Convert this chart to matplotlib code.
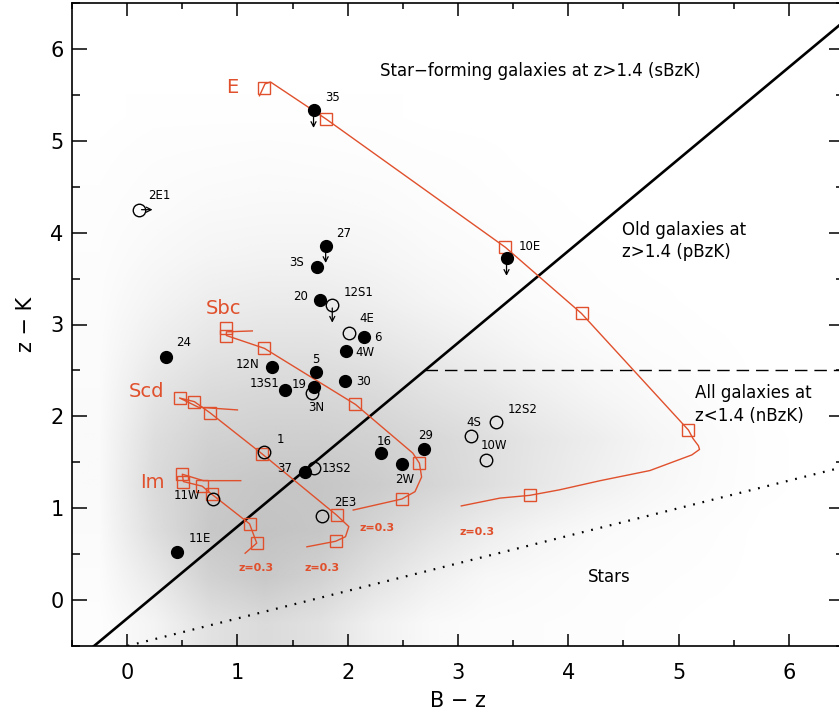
import numpy as np
import matplotlib
matplotlib.use('Agg')
import matplotlib.pyplot as plt

RED = '#e0502c'
GREY = '#a4a4a4'

# field galaxy density (fraction of area covered by dots), B-z columns / z-K rows
dens_x = [-0.25, 0.25, 0.75, 1.25, 1.75, 2.25, 2.75, 3.25, 3.75, 4.25, 4.75, 5.25, 5.75, 6.25]
dens_y = [-0.25, 0.25, 0.75, 1.25, 1.75, 2.25, 2.75, 3.25, 3.75, 4.25, 4.75, 5.25]
dens = [
    [0.02, 0.15, 0.40, 0.50, 0.40, 0.20, 0.08, 0.04, 0.03, 0.02, 0.01, 0.00, 0.00, 0.00],
    [0.04, 0.30, 0.62, 0.75, 0.62, 0.40, 0.22, 0.10, 0.06, 0.03, 0.02, 0.01, 0.00, 0.00],
    [0.06, 0.45, 0.75, 0.82, 0.78, 0.58, 0.40, 0.25, 0.14, 0.07, 0.04, 0.02, 0.00, 0.00],
    [0.07, 0.50, 0.72, 0.78, 0.78, 0.70, 0.58, 0.45, 0.32, 0.20, 0.11, 0.05, 0.01, 0.00],
    [0.07, 0.45, 0.62, 0.66, 0.66, 0.62, 0.54, 0.45, 0.34, 0.24, 0.13, 0.06, 0.01, 0.00],
    [0.06, 0.36, 0.50, 0.54, 0.54, 0.50, 0.40, 0.32, 0.22, 0.13, 0.07, 0.03, 0.00, 0.00],
    [0.05, 0.24, 0.36, 0.40, 0.40, 0.35, 0.27, 0.19, 0.11, 0.06, 0.03, 0.01, 0.00, 0.00],
    [0.04, 0.15, 0.24, 0.27, 0.27, 0.22, 0.15, 0.09, 0.05, 0.02, 0.01, 0.00, 0.00, 0.00],
    [0.03, 0.09, 0.14, 0.16, 0.16, 0.13, 0.08, 0.05, 0.02, 0.01, 0.00, 0.00, 0.00, 0.00],
    [0.02, 0.05, 0.08, 0.09, 0.09, 0.07, 0.04, 0.02, 0.01, 0.00, 0.00, 0.00, 0.00, 0.00],
    [0.01, 0.03, 0.04, 0.05, 0.04, 0.03, 0.02, 0.01, 0.00, 0.00, 0.00, 0.00, 0.00, 0.00],
    [0.00, 0.01, 0.01, 0.01, 0.01, 0.01, 0.00, 0.00, 0.00, 0.00, 0.00, 0.00, 0.00, 0.00],
]

# detected sources with K-band detection (filled)
fill_names = ['35', '27', '3S', '20', '6', '4W', '24', '12N', '5', '30', '13S1', '19',
              '16', '29', '2W', '37', '11E', '10E']
fill_bz = [1.69, 1.80, 1.72, 1.75, 2.15, 1.98, 0.35, 1.31, 1.715, 1.975, 1.43, 1.69,
           2.30, 2.69, 2.49, 1.615, 0.45, 3.44]
fill_zk = [5.33, 3.86, 3.63, 3.27, 2.86, 2.71, 2.65, 2.54, 2.48, 2.39, 2.29, 2.32,
           1.60, 1.64, 1.48, 1.39, 0.52, 3.72]
fill_lx = [1.86, 1.96, 1.54, 1.57, 2.27, 2.16, 0.51, 1.09, 1.71, 2.14, 1.25, 1.56,
           2.33, 2.71, 2.52, 1.43, 0.66, 3.65]
fill_ly = [5.47, 3.99, 3.67, 3.30, 2.855, 2.70, 2.80, 2.565, 2.62, 2.38, 2.355, 2.345,
           1.73, 1.79, 1.315, 1.43, 0.67, 3.85]

open_names = ['2E1', '12S1', '4E', '3N', '1', '13S2', '11W', '2E3', '4S', '12S2', '10W']
open_bz = [0.105, 1.86, 2.01, 1.68, 1.245, 1.69, 0.775, 1.77, 3.12, 3.345, 3.255]
open_zk = [4.25, 3.21, 2.91, 2.25, 1.61, 1.435, 1.10, 0.913, 1.79, 1.935, 1.53]
open_lx = [0.295, 2.10, 2.17, 1.715, 1.39, 1.90, 0.54, 1.98, 3.14, 3.59, 3.33]
open_ly = [4.40, 3.35, 3.06, 2.10, 1.747, 1.43, 1.134, 1.06, 1.93, 2.08, 1.68]

# limits: down arrows on z-K, right arrow on B-z
down_lim = ['35', '27', '10E', '12S1']
right_lim = ['2E1']

# model tracks (high z -> z=0.3) and their marked redshift steps
e_bz = [1.20, 1.25, 1.30, 1.80, 3.43, 4.12, 5.09, 5.13, 5.18, 5.19, 5.12, 4.74, 4.29, 3.92, 3.65, 3.38, 3.03]
e_zk = [5.49, 5.62, 5.64, 5.24, 3.84, 3.12, 1.85, 1.76, 1.68, 1.64, 1.58, 1.41, 1.30, 1.20, 1.14, 1.11, 1.025]
e_sq_bz = [1.24, 1.80, 3.43, 4.12, 5.09, 3.65]
e_sq_zk = [5.57, 5.24, 3.84, 3.12, 1.85, 1.14]

sbc_bz = [1.135, 0.90, 0.90, 1.245, 2.07, 2.59, 2.65, 2.67, 2.61, 2.49, 2.05]
sbc_zk = [2.93, 2.92, 2.88, 2.74, 2.13, 1.60, 1.49, 1.34, 1.18, 1.10, 0.98]
sbc_sq_bz = [0.90, 0.90, 1.245, 2.07, 2.65, 2.49]
sbc_sq_zk = [2.96, 2.88, 2.74, 2.13, 1.49, 1.10]

scd_bz = [1.00, 0.645, 0.475, 0.61, 0.75, 1.22, 1.90, 2.01, 1.98, 1.89, 1.63]
scd_zk = [2.07, 2.10, 2.20, 2.16, 2.04, 1.595, 0.924, 0.80, 0.69, 0.64, 0.58]
scd_sq_bz = [0.475, 0.61, 0.75, 1.22, 1.90, 1.89]
scd_sq_zk = [2.20, 2.16, 2.04, 1.595, 0.924, 0.64]

im_bz = [1.03, 0.69, 0.50, 0.51, 0.68, 0.77, 1.11, 1.175, 1.07]
im_zk = [1.30, 1.30, 1.37, 1.29, 1.24, 1.15, 0.83, 0.62, 0.51]
im_sq_bz = [0.50, 0.51, 0.68, 0.77, 1.11, 1.175]
im_sq_zk = [1.37, 1.29, 1.24, 1.15, 0.83, 0.62]

track_names = ['E', 'Sbc', 'Scd', 'Im']
track_name_x = [0.95, 0.87, 0.18, 0.23]
track_name_y = [5.58, 3.17, 2.275, 1.275]
zlab_x = [3.17, 2.27, 1.77, 1.17]
zlab_y = [0.74, 0.78, 0.35, 0.35]

fig = plt.figure(figsize=(8.39, 7.18), dpi=100)
ax = fig.add_axes([72 / 839, 72 / 718, 772 / 839, 643 / 718])

# grey cloud of field galaxies
rgba = np.zeros((len(dens_y), len(dens_x), 4))
rgba[..., :3] = matplotlib.colors.to_rgb(GREY)
rgba[..., 3] = 0.8 * np.array(dens)
ax.imshow(rgba, origin='lower', interpolation='bilinear', aspect='auto',
          extent=(dens_x[0] - 0.25, dens_x[-1] + 0.25, dens_y[0] - 0.25, dens_y[-1] + 0.25),
          zorder=0)
ax.set_xlim(-0.5, 6.5)
ax.set_ylim(-0.5, 6.5)

# BzK selection boundaries
xx = np.array([-0.5, 6.5])
ax.plot(xx, xx - 0.2, color='k', lw=1.9, zorder=2)
ax.plot([2.7, 6.5], [2.5, 2.5], color='k', lw=1.0, dashes=(9, 5), zorder=2)
ax.plot(xx, 0.3 * xx - 0.5, color='k', lw=1.6, dashes=(0.8, 3.5), zorder=2)

# model tracks
for tb, tz, sb, sz in [(e_bz, e_zk, e_sq_bz, e_sq_zk), (sbc_bz, sbc_zk, sbc_sq_bz, sbc_sq_zk),
                       (scd_bz, scd_zk, scd_sq_bz, scd_sq_zk), (im_bz, im_zk, im_sq_bz, im_sq_zk)]:
    ax.plot(tb, tz, color=RED, lw=1.0, zorder=3)
    ax.plot(sb, sz, 's', ms=9, mfc='none', mec=RED, mew=1.0, zorder=3)
for name, tx, ty in zip(track_names, track_name_x, track_name_y):
    ax.text(tx, ty, name, color=RED, fontsize=14, ha='center', va='center', zorder=4)
for tx, ty in zip(zlab_x, zlab_y):
    ax.text(tx, ty, 'z=0.3', color=RED, fontsize=8, fontweight='bold',
            ha='center', va='center', zorder=4)

# sources
ax.plot(fill_bz, fill_zk, 'o', ms=8.5, color='k', zorder=5)
ax.plot(open_bz, open_zk, 'o', ms=9, mfc='none', mec='k', mew=1.0, zorder=5)
for name, lx, ly in zip(fill_names + open_names, fill_lx + open_lx, fill_ly + open_ly):
    ax.text(lx, ly, name, fontsize=8.5, ha='center', va='center', zorder=6)

arrow_kw = dict(arrowstyle='->,head_length=0.35,head_width=0.18', color='k', lw=0.9)
for name, bz, zk in zip(fill_names + open_names, fill_bz + open_bz, fill_zk + open_zk):
    if name in down_lim:
        ax.annotate('', xy=(bz, zk - 0.22), xytext=(bz, zk), arrowprops=arrow_kw, zorder=6)
    if name in right_lim:
        ax.annotate('', xy=(bz + 0.15, zk), xytext=(bz, zk), arrowprops=arrow_kw, zorder=6)

# region labels
ax.text(2.29, 5.76, 'Star\u2212forming galaxies at z>1.4 (sBzK)', fontsize=12, va='center')
ax.text(4.49, 3.91, 'Old galaxies at\nz>1.4 (pBzK)', fontsize=12, va='center', linespacing=1.3)
ax.text(5.15, 2.13, 'All galaxies at\nz<1.4 (nBzK)', fontsize=12, va='center', linespacing=1.3)
ax.text(4.18, 0.25, 'Stars', fontsize=12, va='center')

ax.set_xticks(range(0, 7))
ax.set_yticks(range(0, 7))
ax.set_xticks(np.arange(-0.5, 6.6, 0.5), minor=True)
ax.set_yticks(np.arange(-0.5, 6.6, 0.5), minor=True)
ax.tick_params(which='both', direction='in', top=True, right=True, width=1.1, labelsize=15)
ax.tick_params(which='major', axis='x', length=9, pad=12)
ax.tick_params(which='minor', axis='x', length=4.5)
ax.tick_params(which='major', axis='y', length=11, pad=6)
ax.tick_params(which='minor', axis='y', length=6)
for sp in ax.spines.values():
    sp.set_linewidth(1.2)

ax.set_xlabel('B \u2212 z', fontsize=15, labelpad=6)
ax.set_ylabel('z \u2212 K', fontsize=15, labelpad=10)

fig.savefig('out.png', dpi=100)
